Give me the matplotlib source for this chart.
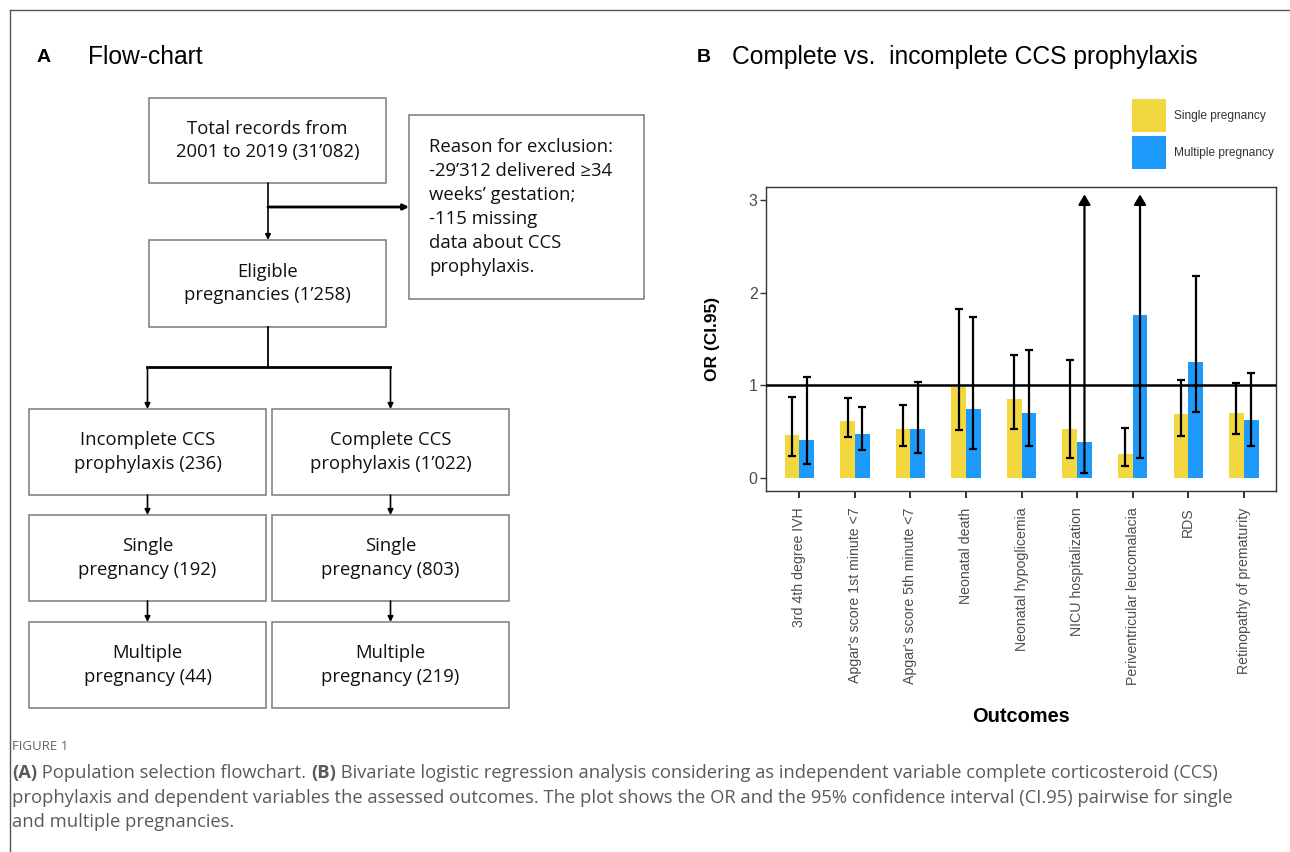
import numpy as np
import matplotlib.pyplot as plt
from matplotlib.patches import Rectangle

# ---- data ----
outcomes = ["3rd 4th degree IVH", "Apgar's score 1st minute <7", "Apgar's score 5th minute <7",
            "Neonatal death", "Neonatal hypoglicemia", "NICU hospitalization",
            "Periventricular leucomalacia", "RDS", "Retinopathy of prematurity"]
single_or = [0.46, 0.62, 0.53, 0.98, 0.85, 0.53, 0.26, 0.69, 0.70]
single_lo = [0.24, 0.44, 0.35, 0.52, 0.53, 0.22, 0.13, 0.45, 0.48]
single_hi = [0.87, 0.86, 0.79, 1.82, 1.33, 1.27, 0.54, 1.06, 1.03]
multi_or = [0.41, 0.48, 0.53, 0.74, 0.70, 0.39, 1.76, 1.25, 0.63]
multi_lo = [0.15, 0.30, 0.27, 0.31, 0.35, 0.05, 0.22, 0.71, 0.35]
multi_hi = [1.09, 0.77, 1.04, 1.74, 1.38, None, None, 2.18, 1.13]  # None = runs off the top
y_ticks = [0, 1, 2, 3]

flow_text = {
    "total": "Total records from\n2001 to 2019 (31\u2019082)",
    "excl": "Reason for exclusion:\n-29\u2019312 delivered \u226534\nweeks\u2019 gestation;\n-115 missing\ndata about CCS\nprophylaxis.",
    "elig": "Eligible\npregnancies (1\u2019258)",
    "inc": "Incomplete CCS\nprophylaxis (236)",
    "comp": "Complete CCS\nprophylaxis (1\u2019022)",
    "inc_s": "Single\npregnancy (192)",
    "comp_s": "Single\npregnancy (803)",
    "inc_m": "Multiple\npregnancy (44)",
    "comp_m": "Multiple\npregnancy (219)",
}

YELLOW = "#F2D83E"
BLUE = "#1E9BFA"
W, H = 1290, 852

fig = plt.figure(figsize=(W / 100, H / 100), dpi=100)
cv = fig.add_axes([0, 0, 1, 1])
cv.set_xlim(0, W)
cv.set_ylim(H, 0)
cv.axis("off")

# outer frame (top + left only)
cv.plot([10, W], [10, 10], color="#555555", lw=1)
cv.plot([10, 10], [10, H], color="#555555", lw=1)

# ---- panel A: flow chart ----
cv.text(37, 57, "A", fontsize=14, weight="bold", family="Liberation Sans", va="center")
cv.text(88, 57, "Flow-chart", fontsize=17.7, family="Liberation Sans", va="center")

boxes = {
    "total": (149, 98, 386, 183),
    "excl": (409, 115, 644, 299),
    "elig": (149, 240, 386, 327),
    "inc": (29, 409, 266, 495),
    "comp": (272, 409, 509, 495),
    "inc_s": (29, 515, 266, 601),
    "comp_s": (272, 515, 509, 601),
    "inc_m": (29, 622, 266, 708),
    "comp_m": (272, 622, 509, 708),
}
ffont = dict(family="Open Sans", fontsize=13.3, color="#111111", linespacing=1.42)
for key, (x0, y0, x1, y1) in boxes.items():
    cv.add_patch(Rectangle((x0, y0), x1 - x0, y1 - y0, fill=False, ec="#7a7a7a", lw=1.1))
    if key == "excl":
        cv.text(x0 + 20, (y0 + y1) / 2, flow_text[key], ha="left", va="center", **ffont)
    else:
        cv.text((x0 + x1) / 2, (y0 + y1) / 2, flow_text[key], ha="center", va="center", **ffont)

arr = dict(arrowstyle="-|>", color="black", lw=1.2, mutation_scale=8, shrinkA=0, shrinkB=0)
# total -> eligible, with side branch to exclusion box
cv.annotate("", xy=(268, 240), xytext=(268, 183), arrowprops=arr)
cv.annotate("", xy=(409, 207), xytext=(268, 207), arrowprops=dict(arr, lw=2))
# eligible -> split
cv.plot([268, 268], [327, 367], color="black", lw=1.3)
cv.plot([147, 390], [367, 367], color="black", lw=2)
cv.annotate("", xy=(147.5, 409), xytext=(147.5, 367), arrowprops=arr)
cv.annotate("", xy=(390.5, 409), xytext=(390.5, 367), arrowprops=arr)
for xc in (147.5, 390.5):
    cv.annotate("", xy=(xc, 515), xytext=(xc, 495), arrowprops=arr)
    cv.annotate("", xy=(xc, 622), xytext=(xc, 601), arrowprops=arr)

# ---- panel B: bar chart ----
cv.text(697, 57, "B", fontsize=14, weight="bold", family="Liberation Sans", va="center")
cv.text(732, 57, "Complete vs.  incomplete CCS prophylaxis", fontsize=17.7,
        family="Liberation Sans", va="center")

ax = fig.add_axes([766 / W, 1 - 491 / H, 510 / W, 304 / H])
x = np.arange(len(outcomes))
bw = 0.265
ax.bar(x - bw / 2, single_or, bw, color=YELLOW, label="Single pregnancy", zorder=2)
ax.bar(x + bw / 2, multi_or, bw, color=BLUE, label="Multiple pregnancy", zorder=2)

s_err = [np.array(single_or) - np.array(single_lo), np.array(single_hi) - np.array(single_or)]
ax.errorbar(x - bw / 2, single_or, yerr=s_err, fmt="none", ecolor="black",
            elinewidth=1.6, capsize=2.6, capthick=1.6, zorder=3)
for i in range(len(outcomes)):
    xi = x[i] + bw / 2
    if multi_hi[i] is None:
        ax.annotate("", xy=(xi, 3.06), xytext=(xi, multi_lo[i]),
                    arrowprops=dict(arrowstyle="-|>,head_length=0.5,head_width=0.3",
                                    color="black", lw=1.6, mutation_scale=12,
                                    shrinkA=0, shrinkB=0), zorder=3)
        ax.plot([xi], [multi_lo[i]], marker="_", ms=6, mew=1.6, color="black", zorder=3)
    else:
        ax.errorbar([xi], [multi_or[i]],
                    yerr=[[multi_or[i] - multi_lo[i]], [multi_hi[i] - multi_or[i]]],
                    fmt="none", ecolor="black", elinewidth=1.6, capsize=2.6,
                    capthick=1.6, zorder=3)

ax.axhline(1, color="black", lw=1.8, zorder=4)
ax.set_xlim(-0.6, 8.58)
ax.set_ylim(-0.14, 3.14)
ax.set_yticks(y_ticks)
ax.set_xticks(x)
ax.set_xticklabels(outcomes, rotation=90, fontsize=10.2, family="Liberation Sans", color="#4d4d4d")
ax.set_yticklabels([str(v) for v in y_ticks], fontsize=11.5, family="Liberation Sans",
                   color="#4d4d4d")
ax.tick_params(axis="x", length=5, width=1.4, color="#333333", pad=7)
ax.tick_params(axis="y", length=4, width=1, color="#333333", pad=2)
for sp in ax.spines.values():
    sp.set_color("#333333")
    sp.set_linewidth(1)

ax.set_ylabel("OR (CI.95)", fontsize=12.5, weight="bold", family="Liberation Sans")
ax.yaxis.set_label_coords(-(766 - 720) / 510, 0.5)
ax.set_xlabel("Outcomes", fontsize=14.4, weight="bold", family="Liberation Sans")
ax.xaxis.set_label_coords(0.5, -(707 - 491) / 304)

leg = ax.legend(loc="lower left", bbox_to_anchor=((1132 - 766) / 510, (491 - 169) / 304),
                frameon=False, prop={"family": "Liberation Sans", "size": 8.6},
                handlelength=2.85, handleheight=3.9, handletextpad=0.7, labelspacing=0.3,
                borderpad=0, borderaxespad=0)
for t in leg.get_texts():
    t.set_color("#333333")

# ---- caption ----
cv.text(12, 746, "FIGURE 1", fontsize=9.5, family="Open Sans", color="#666666", va="center")
cap = dict(family="Open Sans", fontsize=13.2, color="#5a5a5a")
t1 = cv.text(12, 773, "(A)", weight="bold", va="center", **cap)
t2 = cv.annotate(" Population selection flowchart. ", xy=(1, 0), xycoords=t1,
                 va="bottom", ha="left", **cap)
t3 = cv.annotate("(B)", xy=(1, 0), xycoords=t2, va="bottom", ha="left", weight="bold", **cap)
cv.annotate(" Bivariate logistic regression analysis considering as independent variable "
            "complete corticosteroid (CCS)", xy=(1, 0), xycoords=t3, va="bottom", ha="left", **cap)
cv.text(12, 798, "prophylaxis and dependent variables the assessed outcomes. The plot shows the OR "
        "and the 95% confidence interval (CI.95) pairwise for single", va="center", **cap)
cv.text(12, 822, "and multiple pregnancies.", va="center", **cap)

fig.savefig("out.png", dpi=100)
